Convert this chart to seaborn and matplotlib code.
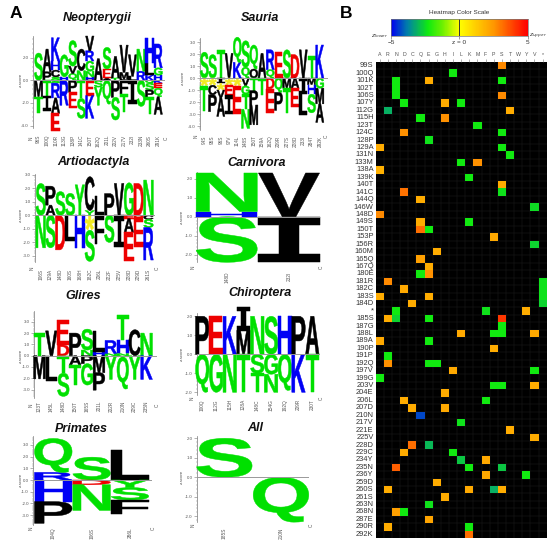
import numpy as np
import pandas as pd
import seaborn as sns
import matplotlib
matplotlib.use("Agg")
import matplotlib.pyplot as plt
from matplotlib.colors import LinearSegmentedColormap
from matplotlib.patheffects import AbstractPathEffect
from matplotlib.ticker import AutoMinorLocator, FormatStrFormatter
from matplotlib.transforms import Affine2D

# ---------- logo data (letter, height in z units); stacks run outward from z = 0 ----------
NEO_LABELS = ["96S","100Q","110R","113G","138P","141C","150T","162Q","201L","202V","217V","232I","233N","260S","291K"]
NEO_UP = [[("S",2.4)],[("P",.75),("A",2.0)],[("S",.3),("C",.6),("H",.8),("K",2.05)],[("H",.3),("G",1.95)],
          [("Q",.6),("V",.65),("S",2.25)],[("N",.85),("C",1.9)],[("H",.3),("N",.5),("G",.9),("R",.9),("V",1.3)],
          [("A",1.9)],[("A",.2),("E",.8),("S",1.9)],[("T",.2),("A",1.9)],[("L",.1),("M",.6),("V",2.4)],
          [("L",.35),("V",1.9)],[("R",.8),("N",1.95)],[("K",.45),("L",1.05),("H",2.2)],[("H",.45),("G",.65),("R",2.1)]]
NEO_DOWN = [[("M",1.45),("T",1.45)],[("T",1.35),("I",1.35)],[("S",.25),("R",1.3),("A",1.35),("E",1.6)],[("R",2.2)],
            [("P",1.05),("E",1.4)],[("T",1.6),("S",1.75)],[("E",1.35),("K",2.0)],[("S",.6),("Y",1.6)],[("Q",2.1)],
            [("P",1.5),("S",2.0)],[("F",1.2),("T",1.6)],[("I",2.1)],[("S",2.3)],
            [("Q",.25),("S",.6),("P",.65),("T",1.45)],[("K",.25),("E",.45),("Q",.75),("A",1.55)]]

SAU_LABELS = ["94S","95S","96S","97V","114L","148S","150T","159A","162Q","209R","227S","228D","233I","284T","292K"]
SAU_UP = [[("S",2.15)],[("S",1.95)],[("T",2.35)],[("V",2.05)],[("K",1.3),("Q",2.1)],[("Q",.9),("S",2.2)],
          [("O",.75),("Q",2.0)],[("A",2.05)],[("Q",.7),("R",1.65)],[("E",2.2)],[("S",2.35)],[("D",1.95)],
          [("V",2.35)],[("T",1.8)],[("K",2.75)]]
SAU_DOWN = [[("*",.65),("T",2.1)],[("*",.6),("C",.8),("P",1.4)],[("I",.45),("*",.55),("V",.65),("A",1.55)],
            [("*",.6),("E",.85),("I",1.55)],[("*",.65),("E",2.35)],[("V",.65),("G",.7),("T",1.25),("N",1.6)],
            [("T",1.05),("P",1.2),("M",1.65)],[("T",1.4)],[("D",.9),("E",2.0)],[("Q",1.2),("P",1.5)],
            [("M",.85),("T",2.05)],[("A",.85),("E",1.55)],[("I",1.3),("L",1.75)],[("M",.55),("H",.8),("S",1.55)],
            [("G",.85),("M",1.3),("A",1.55)]]

ART_LABELS = ["106S","129A","148D","160S","168H","182C","206L","222F","225V","228D","229D","261S"]
ART_UP = [[("S",2.35)],[("A",.75),("P",1.4)],[("S",1.75)],[("S",1.62)],[("Y",2.25)],[("Y",.35),("C",2.5)],
          [("L",1.4)],[("P",1.6)],[("V",2.35)],[("G",2.4)],[("D",2.35)],[("N",2.6)]]
ART_DOWN = [[("N",2.4)],[("S",2.4)],[("D",2.55)],[("L",1.9)],[("H",2.4)],[("*",1.1),("S",2.3)],[("F",2.1)],[("S",2.0)],
            [("I",2.35)],[("E",.25),("A",1.0),("E",2.15)],[("D",.15),("E",2.2)],[("C",.3),("S",.6),("R",2.4)]]

CAR_LABELS = ["148D","232I"]
CAR_UP = [[("H",.27),("N",2.03)],[("V",2.3)]]
CAR_DOWN = [[("S",2.4)],[("I",2.4)]]

GLI_LABELS = ["123T","145L","148D","150T","165S","201L","202R","210N","229C","235N"]
GLI_UP = [[("T",2.0)],[("V",2.2)],[("D",.95),("E",2.2)],[("P",2.0)],[("N",.5),("S",1.85)],[("H",.35),("L",1.8)],
          [("N",.2),("R",1.15)],[("N",.2),("H",1.2),("T",2.2)],[("C",2.3)],[("N",2.0)]]
GLI_DOWN = [[("M",2.05)],[("L",2.2)],[("T",1.55),("S",2.05)],[("A",.8),("T",1.75)],[("P",.7),("G",1.9)],
            [("M",1.5),("P",1.55)],[("Y",2.1)],[("N",.1),("Q",2.85)],[("Y",2.1)],[("K",2.1)]]

CHI_LABELS = ["100Q","112G","115H","128A","148C","154G","192Q","209R","230T"]
CHI_UP = [[("P",2.0)],[("E",2.0)],[("K",2.0)],[("M",1.25),("I",1.25)],[("N",2.0)],[("S",2.0)],[("H",2.0)],[("P",2.0)],[("A",2.0)]]
CHI_DOWN = [[("Q",2.0)],[("G",2.0)],[("N",2.0)],[("T",2.0)],[("S",1.0),("T",1.0)],[("G",1.05),("N",.95)],
            [("Q",1.9)],[("K",2.0)],[("T",2.0)]]

PRI_LABELS = ["104Q","106S","286L"]
PRI_UP = [[("R",.65),("Q",2.9)],[("S",1.95)],[("L",2.55)]]
PRI_DOWN = [[("H",1.85),("P",1.85)],[("D",.4),("N",2.2)],[("Y",.65),("S",1.05),("F",1.2)]]

ALL_LABELS = ["185S","210N"]
ALL_UP = [[("S",2.0)],[]]
ALL_DOWN = [[],[("Q",2.3)]]

# ---------- heatmap data ----------
COL_LABELS = list("ARNDCQEGHILKMFPSTWYV*")
ROW_LABELS = ["99S","100Q","101K","102T","106S","107Y","112G","115H","123T","124C","128P","129A","131N","133M","138A","139K",
              "140T","141C","144Q","146W","148D","149S","150T","153P","156R","160M","165Q","167Q","180E","181R","182C","183S",
              "184D","*","185S","187G","188L","189A","190P","191P","192Q","197V","199G","203V","204E","206L","207D","210N",
              "217V","221E","225V","228D","229C","234Y","235N","236Y","259D","260S","261S","263N","268N","287E","290R","292K"]
CELL_ROW = [0,1,2,2,2,3,4,4,5,5,5,6,6,7,7,8,9,9,10,11,11,12,13,13,14,15,16,17,17,18,19,20,21,21,22,22,23,24,25,26,27,
            28,28,29,29,30,30,31,31,31,32,32,33,33,33,34,34,34,34,35,36,36,36,36,37,37,38,39,40,40,40,41,41,42,43,43,43,
            44,45,45,46,46,47,48,49,50,51,51,52,52,53,53,54,54,54,55,55,56,57,57,57,57,58,59,60,60,61,62,62,63]
CELL_COL = ["S","I","N","E","S","N","N","S","D","H","L","R","T","Q","H","M","D","S","E","A","S","T","L","M","A","K",
            "S","D","S","Q","V","A","Q","K","Q","E","P","V","G","Q","E","Q","E","R","*","D","*","A","E","*","C","*",
            "N","F","Y","R","N","E","S","S","L","P","S","V","A","E","P","R","R","E","G","I","V","A","P","S","V",
            "H","D","F","C","H","Q","L","T","V","C","E","D","I","L","F","N","K","S","F","Y","G","R","K","P","S","H","E","N","D","E","R","K","K"]
CELL_Z = [2.7,-2.3,-2.3,2.0,-2.3,-2.3,-2.3,2.7,-2.3,2.0,-2.3,-3.1,2.0,-2.3,2.6,-2.3,2.6,-2.3,-2.4,2.0,-2.3,-2.3,-2.3,2.6,1.9,-2.3,
          2.0,3.1,-2.4,2.0,-2.5,2.7,2.0,-2.3,3.2,-2.3,2.1,-2.6,2.0,2.3,2.0,-2.3,2.6,2.7,-2.4,2.1,-2.4,2.0,2.0,-2.4,2.0,-2.6,
          -2.3,-2.4,2.0,2.0,-2.6,-2.3,4.1,-2.3,2.1,-2.3,-2.3,2.1,2.1,-2.3,2.0,-2.3,2.6,-2.3,-2.3,2.1,-2.3,-2.3,-2.3,-2.3,2.0,
          2.0,2.0,-2.3,2.0,2.1,-4.3,-2.4,2.0,2.0,3.2,-3.0,2.0,-2.3,-2.8,2.1,3.4,-2.3,-2.8,2.1,-2.3,2.0,2.0,2.1,-3.1,2.0,
          2.0,-2.4,2.3,-2.3,2.2,2.0,-2.3,3.2]

# colours of residue classes
LETTER_COLORS = {**{c: "#00e000" for c in "STNQGY"}, **{c: "#0000f5" for c in "KRH"},
                 **{c: "#ee0000" for c in "DE"}, **{c: "#000000" for c in "AVLIMPFWCO"}, "*": "#f2ea20"}


class FitToBox(AbstractPathEffect):
    """Stretches a text glyph so it fills a box given in data coordinates."""
    def __init__(self, ax, x0, x1, y0, y1):
        super().__init__()
        self.ax, self.box = ax, (x0, x1, y0, y1)

    def draw_path(self, renderer, gc, tpath, affine, rgbFace=None):
        x0, x1, y0, y1 = self.box
        (X0, Y0), (X1, Y1) = self.ax.transData.transform([(x0, y0), (x1, y1)])
        b = tpath.get_extents(affine)
        fit = affine + Affine2D().translate(-b.x0, -b.y0).scale(
            (X1 - X0) / max(b.width, 1e-6), (Y1 - Y0) / max(b.height, 1e-6)).translate(X0, Y0)
        gc2 = renderer.new_gc()
        gc2.copy_properties(gc)
        gc2.set_foreground(rgbFace)
        gc2.set_linewidth(0.35)
        renderer.draw_path(gc2, tpath, fit, rgbFace)
        gc2.restore()


W, H = 550, 542
sns.set_theme(style="white")
plt.rcParams["font.family"] = ["Liberation Sans", "DejaVu Sans"]
fig = plt.figure(figsize=(W / 100, H / 100), dpi=100, facecolor="white")


def px_axes(left, right, top, bottom, **kw):
    return fig.add_axes([left / W, 1 - bottom / H, (right - left) / W, (bottom - top) / H], **kw)


def logo(title, tx, ty, labels, up, down, ticks, axis_x, right_x, first, dx, zero, unit, top, bottom,
         label_pad, n_x, c_x, text_y, ylab_x):
    ax = px_axes(axis_x, right_x, top, bottom)
    ax.patch.set_alpha(0)
    ax.set_xlim((axis_x - first) / dx, (right_x - first) / dx)
    ax.set_ylim((zero - bottom) / unit, (zero - top) / unit)
    sns.despine(ax=ax, bottom=True)
    ax.spines["left"].set_color("#777777")
    ax.spines["left"].set_linewidth(0.5)
    ax.axhline(0, color="#999999", lw=0.7, zorder=5)
    half = 0.49
    for i, stacks in enumerate(zip(up, down)):
        for stack, sign in zip(stacks, (1, -1)):
            z = 0.0
            for letter, h in stack:
                y0, y1 = sorted((z, z + sign * h))
                # nominal size keeps the text's own box inside its slot; the effect stretches the glyph
                size = max(min(h * unit, dx * 2 * half * 1.1) / 1.39 / 1.2, 0.8)
                family = "DejaVu Sans Mono" if letter == "I" else "Liberation Sans"
                ax.text(i, (y0 + y1) / 2, letter, color=LETTER_COLORS[letter], fontweight="bold",
                        fontfamily=family, fontsize=size, ha="center", va="center", clip_on=False, zorder=4,
                        path_effects=[FitToBox(ax, i - half, i + half, y0, y1)])
                z += sign * h
    ax.set_xticks(range(len(labels)), labels, rotation=90, fontsize=3.4, color="#555555")
    ax.set_yticks(ticks)
    ax.yaxis.set_major_formatter(FormatStrFormatter("%.1f"))
    ax.yaxis.set_minor_locator(AutoMinorLocator(5))
    ax.tick_params(axis="y", which="major", labelsize=3.2, labelcolor="#555555", length=2, width=0.4,
                   color="#777777", pad=1, left=True)
    ax.tick_params(axis="y", which="minor", length=1, width=0.3, color="#777777", left=True)
    ax.tick_params(axis="x", length=0, pad=label_pad)
    fig.text(ylab_x / W, 1 - (zero) / H, "z-score", fontsize=3.2, color="#555555", rotation=90, ha="center", va="center")
    fig.text(n_x / W, 1 - text_y / H, "N", fontsize=3.4, color="#555555", rotation=90, ha="center", va="center")
    fig.text(c_x / W, 1 - text_y / H, "C", fontsize=3.4, color="#555555", rotation=90, ha="center", va="center")
    fig.text(tx / W, 1 - ty / H, title, fontsize=9, fontweight="bold", fontstyle="italic", color="#111111",
             ha="center", va="center")


logo("Neopterygii", 97, 18, NEO_LABELS, NEO_UP, NEO_DOWN, [2, 0, -2, -4], 33, 165, 38.5, 8.55, 80.3, 11.35, 36, 128, 5, 30.7, 166, 138, 21)
logo("Sauria", 260, 18, SAU_LABELS, SAU_UP, SAU_DOWN, [3, 2, 1, 0, -1, -2, -3, -4], 200, 328, 204.3, 8.25, 78, 12, 38, 130, 4, 196, 326, 136, 183)
logo("Artiodactyla", 93, 162, ART_LABELS, ART_UP, ART_DOWN, [3, 2, 1, 0, -1, -2, -3], 34.7, 155, 40.7, 9.8, 215.3, 13.55, 174, 262, 5, 32, 157, 268, 21)
logo("Carnivora", 257, 163, CAR_LABELS, CAR_UP, CAR_DOWN, [2, 1, 0, -1, -2], 196.7, 320, 226.7, 62.3, 216.7, 19, 172, 262, 7, 193, 321, 267, 182)
logo("Glires", 83, 296, GLI_LABELS, GLI_UP, GLI_DOWN, [3, 2, 1, 0, -1, -2, -3], 34, 157, 39.5, 11.9, 355.7, 11.3, 311, 398, 2, 30.7, 157, 405, 21)
logo("Chiroptera", 260, 293, CHI_LABELS, CHI_UP, CHI_DOWN, [2, 1, 0, -1, -2], 196.7, 320, 202.3, 13.75, 354.3, 19, 313, 395, 3, 192, 321, 398, 182)
logo("Primates", 81, 429, PRI_LABELS, PRI_UP, PRI_DOWN, [3, 2, 1, 0, -1, -2, -3], 33, 152, 53.3, 38.3, 480, 11.7, 436, 525, 2, 31, 153, 528, 21)
logo("All", 255, 428, ALL_LABELS, ALL_UP, ALL_DOWN, [2, 1, 0, -1, -2], 196.7, 309, 224.3, 56.7, 477.3, 19.5, 436, 522, 4, 193, 311, 525, 182)

fig.text(10 / W, 1 - 13 / H, "A", fontsize=12.5, fontweight="bold", color="black", ha="left", va="center")
fig.text(340 / W, 1 - 13 / H, "B", fontsize=12.5, fontweight="bold", color="black", ha="left", va="center")

# ---------- heatmap ----------
cmap = LinearSegmentedColormap.from_list(
    "heat", [(0, "#0000f0"), (0.12, "#0080a8"), (0.27, "#10ea10"), (0.38, "#70f000"), (0.5, "#ffff00"),
             (0.75, "#ff9800"), (1, "#ff0000")])
matrix = pd.DataFrame(np.nan, index=ROW_LABELS, columns=COL_LABELS)
for r, c, z in zip(CELL_ROW, CELL_COL, CELL_Z):
    matrix.iloc[r, COL_LABELS.index(c)] = z

ax = px_axes(375.7, 546.7, 62, 538)
ax.set_facecolor("black")
ax.set_axisbelow(True)
sns.heatmap(matrix, ax=ax, cmap=cmap, vmin=-5, vmax=5, cbar=False, xticklabels=True, yticklabels=True,
            linewidths=0)
for k in range(1, len(COL_LABELS)):
    ax.axvline(k, color="#222222", lw=0.3, zorder=0.5)
for k in range(1, len(ROW_LABELS)):
    ax.axhline(k, color="#222222", lw=0.3, zorder=0.5)
ax.xaxis.tick_top()
ax.tick_params(axis="x", labelsize=3.8, labelcolor="#555555", length=2, width=0.4, color="#777777", pad=1.5, rotation=0)
ax.tick_params(axis="y", labelsize=5.4, labelcolor="#333333", length=0, pad=1.5, rotation=0)

# ---------- colour scale ----------
SCALE_Z = np.linspace(-5, 5, 256)
cax = px_axes(391, 527.7, 19, 36)
sns.heatmap(SCALE_Z[None, :], ax=cax, cmap=cmap, vmin=-5, vmax=5, cbar=False, xticklabels=False, yticklabels=False)
cax.axvline(128, color="#333333", lw=0.7)
cax.set_xticks([0, 128, 256], ["−5", "z = 0", "5"])
cax.tick_params(axis="x", labelsize=4.6, labelcolor="#333333", length=2, width=0.4, color="#555555", pad=1, bottom=True)
for s in cax.spines.values():
    s.set_visible(True)
    s.set_color("#777777")
    s.set_linewidth(0.5)
fig.text(459 / W, 1 - 12.5 / H, "Heatmap Color Scale", fontsize=4.6, color="#333333", ha="center", va="center")
fig.text(380 / W, 1 - 36 / H, "$z_{lower}$", fontsize=4.4, color="#333333", ha="center", va="center")
fig.text(538 / W, 1 - 36 / H, "$z_{upper}$", fontsize=4.4, color="#333333", ha="center", va="center")

fig.savefig("out.png", dpi=100, facecolor="white")
